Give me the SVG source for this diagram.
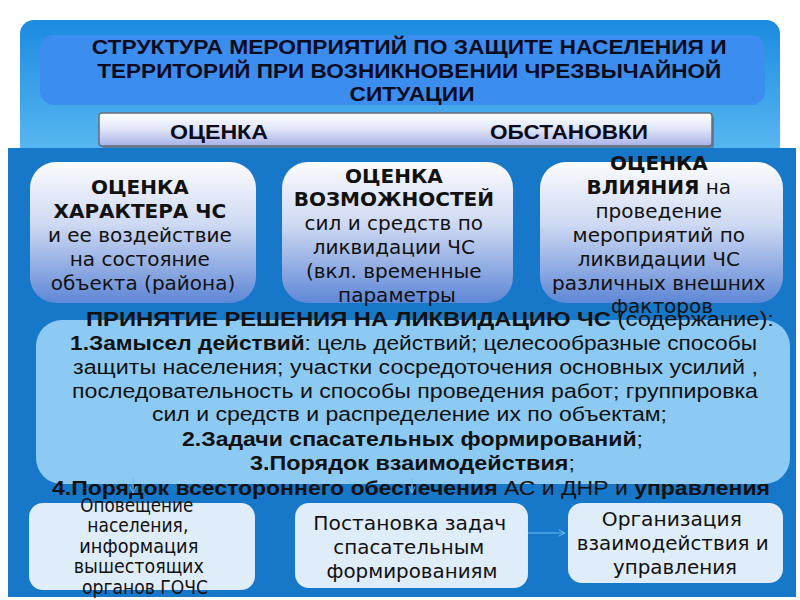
<svg xmlns="http://www.w3.org/2000/svg" width="800" height="600" viewBox="0 0 800 600">
<defs>
<linearGradient id="gTop" x1="0" y1="0" x2="0" y2="1">
<stop offset="0" stop-color="#1b8be0"/>
<stop offset="1" stop-color="#5cbaf2"/>
</linearGradient>
<linearGradient id="gBar" x1="0" y1="0" x2="0" y2="1">
<stop offset="0" stop-color="#ffffff"/>
<stop offset="0.5" stop-color="#dfe4f8"/>
<stop offset="1" stop-color="#a7b1e6"/>
</linearGradient>
<linearGradient id="gBox" x1="0" y1="0" x2="0" y2="1">
<stop offset="0" stop-color="#fbfcff"/>
<stop offset="0.45" stop-color="#cdd8f2"/>
<stop offset="1" stop-color="#5e87d6"/>
</linearGradient>
<marker id="arr" viewBox="0 0 10 10" refX="9" refY="5" markerWidth="8" markerHeight="8" orient="auto" markerUnits="userSpaceOnUse">
<path d="M1,1 L9,5 L1,9" fill="none" stroke="#6cc0f4" stroke-width="1.2"/>
</marker>
</defs>
<style>
.cond{font-family:"Liberation Sans","Noto Sans",sans-serif;font-weight:bold;fill:#0b0b1e}
.dv{font-family:"DejaVu Sans","Noto Sans",sans-serif;fill:#111}
.b{font-weight:bold}
.n{font-weight:normal}
.dec{font-family:"Liberation Sans","Noto Sans",sans-serif;font-size:19.5px;fill:#111}
.low{font-family:"DejaVu Sans","Noto Sans",sans-serif;font-size:20px;fill:#111}
.box{fill:url(#gBox)}
.lbox{fill:#dfecf9}
.conn{stroke:#6cc0f4;stroke-width:1.2;fill:none}
</style>

<g id="top-panel">
<rect x="20" y="20" width="760" height="140" rx="14" fill="url(#gTop)"/>
</g>

<g id="title">
<rect x="40" y="35" width="725" height="70" rx="14" fill="#3b8ef0"/>
<text class="cond" font-size="20" text-anchor="middle">
<tspan x="412" y="54" textLength="635" lengthAdjust="spacingAndGlyphs">СТРУКТУРА МЕРОПРИЯТИЙ ПО ЗАЩИТЕ НАСЕЛЕНИЯ И</tspan>
<tspan x="412" y="78" textLength="624" lengthAdjust="spacingAndGlyphs">ТЕРРИТОРИЙ ПРИ ВОЗНИКНОВЕНИИ ЧРЕЗВЫЧАЙНОЙ</tspan>
<tspan x="412" y="101" textLength="125" lengthAdjust="spacingAndGlyphs">СИТУАЦИИ</tspan>
</text>
</g>

<g id="assessment-bar">
<rect x="100" y="114" width="612" height="33" rx="3" fill="#5a6470" opacity="0.6" transform="translate(2,2)"/>
<rect x="99" y="113" width="613" height="33" rx="3" fill="url(#gBar)" stroke="#666d78" stroke-width="1.5"/>
<text class="cond" font-size="20">
<tspan x="170" y="139" textLength="98" lengthAdjust="spacingAndGlyphs">ОЦЕНКА</tspan>
<tspan x="490" y="139" textLength="158" lengthAdjust="spacingAndGlyphs">ОБСТАНОВКИ</tspan>
</text>
</g>

<g id="main-panel">
<rect x="8" y="148" width="788" height="449" fill="#1777c8"/>
</g>

<g id="box-character">
<rect class="box" x="30" y="162" width="226" height="141" rx="26"/>
<text class="dv" font-size="20" text-anchor="middle">
<tspan x="143" y="194" class="b">ОЦЕНКА</tspan>
<tspan x="143" y="218" class="b">ХАРАКТЕРА ЧС</tspan>
<tspan x="143" y="242">и ее воздействие</tspan>
<tspan x="143" y="266">на состояние</tspan>
<tspan x="143" y="290">объекта (района)</tspan>
</text>
</g>

<g id="box-capabilities">
<rect class="box" x="282" y="162" width="231" height="141" rx="26"/>
<text class="dv" font-size="20" text-anchor="middle">
<tspan x="397" y="183" class="b">ОЦЕНКА</tspan>
<tspan x="397" y="206" class="b">ВОЗМОЖНОСТЕЙ</tspan>
<tspan x="397" y="230">сил и средств по</tspan>
<tspan x="397" y="254">ликвидации ЧС</tspan>
<tspan x="397" y="278">(вкл. временные</tspan>
<tspan x="397" y="302">параметры</tspan>
</text>
</g>

<g id="box-influence">
<rect class="box" x="540" y="162" width="243" height="141" rx="26"/>
<text class="dv" font-size="20" text-anchor="middle">
<tspan x="662" y="170" class="b">ОЦЕНКА</tspan>
<tspan x="662" y="194"><tspan class="b">ВЛИЯНИЯ</tspan> на</tspan>
<tspan x="662" y="218">проведение</tspan>
<tspan x="662" y="242">мероприятий по</tspan>
<tspan x="662" y="266">ликвидации ЧС</tspan>
<tspan x="662" y="290">различных внешних</tspan>
<tspan x="662" y="313">факторов</tspan>
</text>
</g>

<g id="decision">
<rect x="36" y="320" width="754" height="164" rx="26" fill="#8ccaf4"/>
<text class="dec">
<tspan x="86" y="326" textLength="688" lengthAdjust="spacingAndGlyphs"><tspan class="b">ПРИНЯТИЕ РЕШЕНИЯ НА ЛИКВИДАЦИЮ ЧС</tspan> (содержание):</tspan>
<tspan x="70" y="350" textLength="687" lengthAdjust="spacingAndGlyphs"><tspan class="b">1.Замысел  действий</tspan>: цель действий; целесообразные способы</tspan>
<tspan x="73" y="374" textLength="685" lengthAdjust="spacingAndGlyphs">защиты населения; участки сосредоточения основных усилий ,</tspan>
<tspan x="72" y="398" textLength="686" lengthAdjust="spacingAndGlyphs">последовательность и способы проведения работ; группировка</tspan>
<tspan x="152" y="421" textLength="515" lengthAdjust="spacingAndGlyphs">сил и средств и распределение их по объектам;</tspan>
<tspan x="182" y="446" textLength="461" lengthAdjust="spacingAndGlyphs"><tspan class="b">2.Задачи спасательных формирований</tspan>;</tspan>
<tspan x="250" y="470" textLength="325" lengthAdjust="spacingAndGlyphs"><tspan class="b">3.Порядок взаимодействия</tspan>;</tspan>
<tspan x="52" y="495" textLength="718" lengthAdjust="spacingAndGlyphs"><tspan class="b">4.Порядок всестороннего обеспечения</tspan> АС и ДНР и <tspan class="b">управления</tspan></tspan>
</text>
</g>

<g id="connectors">
<line class="conn" x1="133" y1="478" x2="133" y2="493" marker-end="url(#arr)"/>
<line class="conn" x1="412" y1="478" x2="412" y2="493" marker-end="url(#arr)"/>
<line class="conn" x1="528" y1="533" x2="565" y2="533" marker-end="url(#arr)"/>
</g>

<g id="box-notify">
<rect class="lbox" x="29" y="503" width="226" height="87" rx="14"/>
<text class="low" font-size="17.5" text-anchor="middle">
<tspan x="140" y="512" textLength="113" lengthAdjust="spacingAndGlyphs">Оповещение</tspan>
<tspan x="141" y="532" textLength="101" lengthAdjust="spacingAndGlyphs">населения,</tspan>
<tspan x="142" y="553" textLength="119" lengthAdjust="spacingAndGlyphs">информация</tspan>
<tspan x="142" y="573" textLength="130" lengthAdjust="spacingAndGlyphs">вышестоящих</tspan>
<tspan x="145" y="594" textLength="126" lengthAdjust="spacingAndGlyphs">органов ГОЧС</tspan>
</text>
</g>

<g id="box-tasks">
<rect class="lbox" x="295" y="503" width="233" height="85" rx="14"/>
<text class="low" text-anchor="middle">
<tspan x="413" y="530" textLength="193" lengthAdjust="spacingAndGlyphs">Постановка задач</tspan>
<tspan x="412" y="554" textLength="151" lengthAdjust="spacingAndGlyphs">спасательным</tspan>
<tspan x="412" y="578" textLength="171" lengthAdjust="spacingAndGlyphs">формированиям</tspan>
</text>
</g>

<g id="box-coordination">
<rect class="lbox" x="568" y="503" width="215" height="80" rx="14"/>
<text class="low" text-anchor="middle">
<tspan x="675" y="526" textLength="140" lengthAdjust="spacingAndGlyphs">Организация</tspan>
<tspan x="676" y="550" textLength="192" lengthAdjust="spacingAndGlyphs">взаимодействия и</tspan>
<tspan x="675" y="574" textLength="124" lengthAdjust="spacingAndGlyphs">управления</tspan>
</text>
</g>
</svg>
